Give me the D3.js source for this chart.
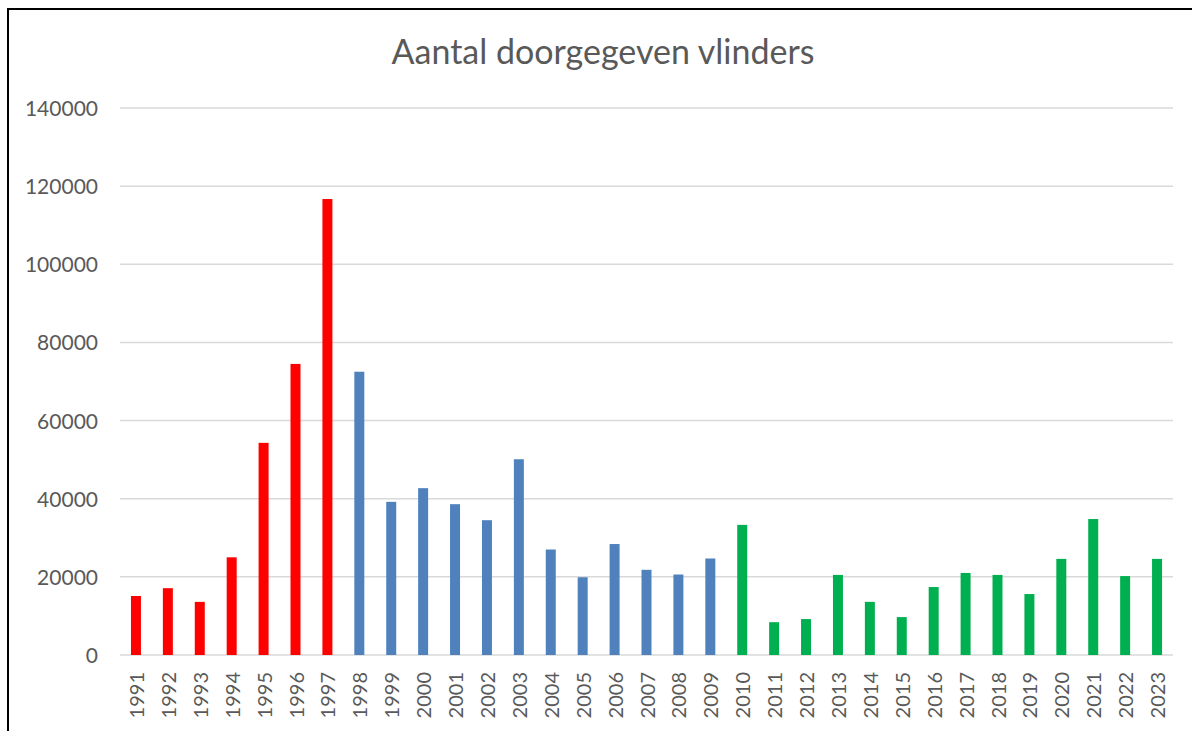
<!DOCTYPE html>
<html><head><meta charset="utf-8">
<script src="https://cdn.jsdelivr.net/npm/d3@7"></script>
<style>html,body{margin:0;padding:0;background:#fff;overflow:hidden}</style>
</head><body>
<svg id="chart" width="1192" height="731"></svg>
<script>
const years = ["1991","1992","1993","1994","1995","1996","1997","1998","1999","2000","2001","2002","2003","2004","2005","2006","2007","2008","2009","2010","2011","2012","2013","2014","2015","2016","2017","2018","2019","2020","2021","2022","2023"];
const counts = [15100,17100,13600,25000,54300,74500,116700,72500,39200,42700,38600,34500,50100,27000,19900,28400,21800,20600,24700,33300,8400,9200,20500,13600,9700,17400,21000,20500,15600,24600,34800,20200,24600];
const periods = ["red","red","red","red","red","red","red","blue","blue","blue","blue","blue","blue","blue","blue","blue","blue","blue","blue","green","green","green","green","green","green","green","green","green","green","green","green","green","green"];
const yTicks = [0,20000,40000,60000,80000,100000,120000,140000];
const title = "Aantal doorgegeven vlinders";
const periodColors = {red:"#FF0000", blue:"#4F81BD", green:"#00B050"};

(function(){
const svg = d3.select("#chart");
const font = "Lato, 'Open Sans', sans-serif";
const pLeft = 120, pRight = 1173, pTop = 108, pBottom = 655;

svg.append("rect").attr("x",8).attr("y",9).attr("width",1200).attr("height",740)
  .attr("fill","#fff").attr("stroke","#000").attr("stroke-width",2);

const x = d3.scaleBand().domain(years).range([pLeft,pRight]).paddingInner(0.687).paddingOuter(0.3435);
const y = d3.scaleLinear().domain([0,140000]).range([pBottom,pTop]);

svg.append("g").selectAll("line").data(yTicks).join("line")
  .attr("x1",pLeft).attr("x2",pRight)
  .attr("y1",d=>y(d)).attr("y2",d=>y(d))
  .attr("stroke","#d9d9d9").attr("stroke-width",1.5);

const yAxis = d3.axisLeft(y).tickValues(yTicks).tickFormat(d3.format("d")).tickSize(0).tickPadding(0);
const gy = svg.append("g").attr("transform",`translate(98,0)`).call(yAxis);
gy.select(".domain").remove();
gy.selectAll("text").attr("font-family",font).attr("font-size",21).attr("fill","#595959").attr("dy","0.36em");

svg.append("g").selectAll("rect").data(years).join("rect")
  .attr("x",d=>x(d)).attr("width",x.bandwidth())
  .attr("y",(d,i)=>y(counts[i])).attr("height",(d,i)=>y(0)-y(counts[i]))
  .attr("fill",(d,i)=>periodColors[periods[i]]);

const xAxis = d3.axisBottom(x).tickSize(0).tickPadding(0);
const gx = svg.append("g").attr("transform",`translate(0,${pBottom})`).call(xAxis);
gx.select(".domain").remove();
gx.selectAll("text")
  .attr("font-family",font).attr("font-size",20).attr("fill","#595959")
  .attr("text-anchor","end").attr("dy",null)
  .attr("transform","translate(0,14) rotate(-90)")
  .attr("x",-3).attr("y",0).attr("dominant-baseline","central");

svg.append("text").attr("x",603).attr("y",64).attr("text-anchor","middle")
  .attr("font-family",font).attr("font-size",34).attr("fill","#595959").text(title);
})();
</script>
</body></html>
